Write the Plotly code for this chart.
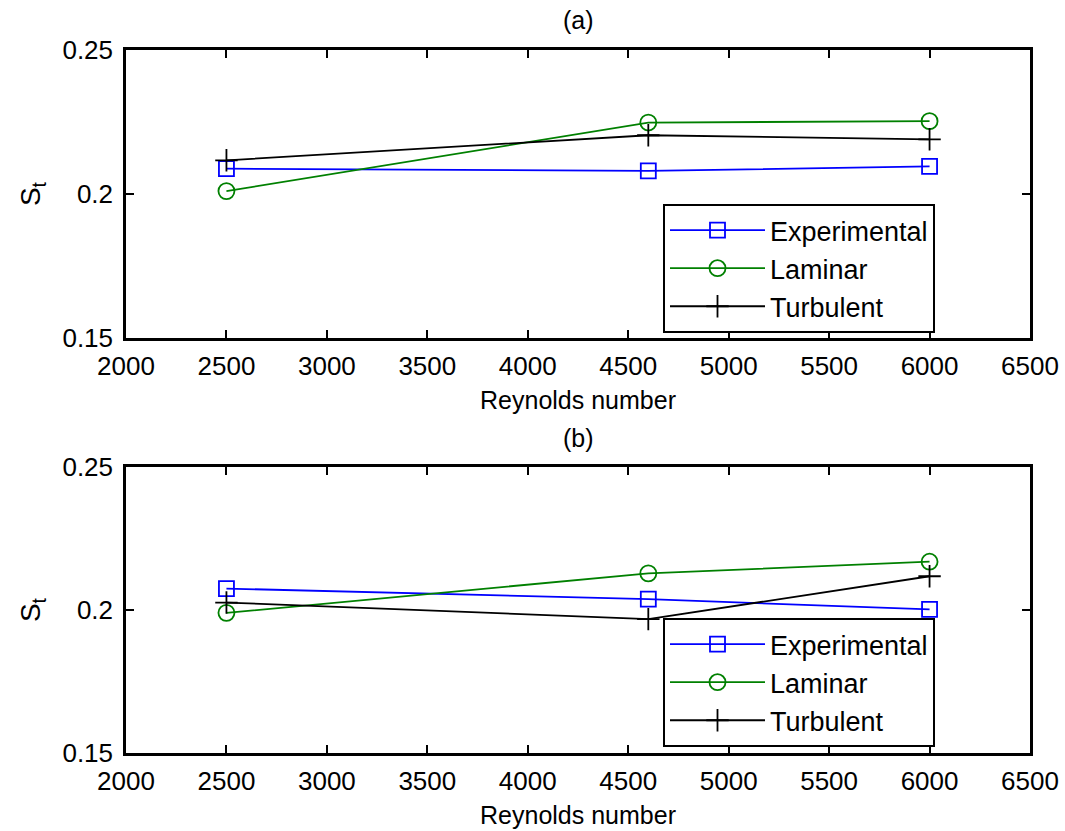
import plotly.graph_objects as go

reynolds = [2500, 4600, 6000]

# Panel (a)
exp_a = [0.2088, 0.2080, 0.2096]
lam_a = [0.2010, 0.2248, 0.2253]
tur_a = [0.2117, 0.2204, 0.2190]

# Panel (b)
exp_b = [0.2075, 0.2038, 0.2002]
lam_b = [0.1990, 0.2128, 0.2169]
tur_b = [0.2026, 0.1968, 0.2118]

series_names = ["Experimental", "Laminar", "Turbulent"]
x_ticks = [2000, 2500, 3000, 3500, 4000, 4500, 5000, 5500, 6000, 6500]
y_ticks = [0.15, 0.2, 0.25]
panel_titles = ["(a)", "(b)"]

FONT = "Liberation Sans, Arial, sans-serif"
W, H = 1065, 831

styles = [
    dict(color="#0000FF", symbol="square-open", size=15),
    dict(color="#008000", symbol="circle-open", size=16),
    dict(color="#000000", symbol="cross-thin-open", size=16),
]

fig = go.Figure()

panels = [
    (exp_a, lam_a, tur_a, "x", "y", "legend"),
    (exp_b, lam_b, tur_b, "x2", "y2", "legend2"),
]
for data in panels:
    vals = data[:3]
    xa, ya, leg = data[3], data[4], data[5]
    for name, v, st in zip(series_names, vals, styles):
        fig.add_trace(go.Scatter(
            x=reynolds, y=v, name=name, mode="lines+markers",
            line=dict(color=st["color"], width=1.8),
            marker=dict(symbol=st["symbol"], size=st["size"], color=st["color"],
                        line=dict(color=st["color"], width=1.8)),
            xaxis=xa, yaxis=ya, legend=leg,
        ))

x_dom = [126 / W, 1030 / W]
ya_dom = [1 - 338 / H, 1 - 50 / H]
yb_dom = [1 - 753 / H, 1 - 467 / H]

axis_common = dict(
    showline=True, linecolor="black", linewidth=2.5, mirror="ticks",
    ticks="inside", ticklen=8, tickwidth=2, tickcolor="black",
    showgrid=False, zeroline=False, automargin=False,
    tickfont=dict(family=FONT, size=26, color="black"),
)

xaxis_cfg = dict(axis_common, range=[2000, 6500], tickvals=x_ticks, domain=x_dom,
                 ticklabelstandoff=3,
                 title=dict(text="Reynolds number", font=dict(family=FONT, size=25, color="black"),
                            standoff=12))
yaxis_cfg = dict(axis_common, range=[0.15, 0.25], tickvals=y_ticks,
                 ticklabelstandoff=5,
                 title=dict(text="S<sub>t</sub>", font=dict(family=FONT, size=28, color="black"),
                            standoff=14))

fig.update_layout(
    width=W, height=H,
    margin=dict(l=0, r=0, t=0, b=0),
    paper_bgcolor="white", plot_bgcolor="white",
    font=dict(family=FONT, size=24, color="black"),
    xaxis=dict(xaxis_cfg, anchor="y"),
    yaxis=dict(yaxis_cfg, domain=ya_dom, anchor="x"),
    xaxis2=dict(xaxis_cfg, anchor="y2"),
    yaxis2=dict(yaxis_cfg, domain=yb_dom, anchor="x2"),
    legend=dict(x=663 / W, y=1 - 204 / H, xanchor="left", yanchor="top",
                bordercolor="black", borderwidth=2, bgcolor="white",
                font=dict(family=FONT, size=27, color="black"),
                itemwidth=95, tracegroupgap=0),
    legend2=dict(x=663 / W, y=1 - 618 / H, xanchor="left", yanchor="top",
                 bordercolor="black", borderwidth=2, bgcolor="white",
                 font=dict(family=FONT, size=27, color="black"),
                 itemwidth=95, tracegroupgap=0),
    showlegend=True,
)

fig.add_annotation(text=panel_titles[0], x=0.5, xref="x domain", y=1 - 20 / H, yref="paper",
                   showarrow=False, font=dict(family=FONT, size=25, color="black"),
                   yanchor="middle")
fig.add_annotation(text=panel_titles[1], x=0.5, xref="x domain", y=1 - 438 / H, yref="paper",
                   showarrow=False, font=dict(family=FONT, size=25, color="black"),
                   yanchor="middle")

fig.write_html("out.html")
